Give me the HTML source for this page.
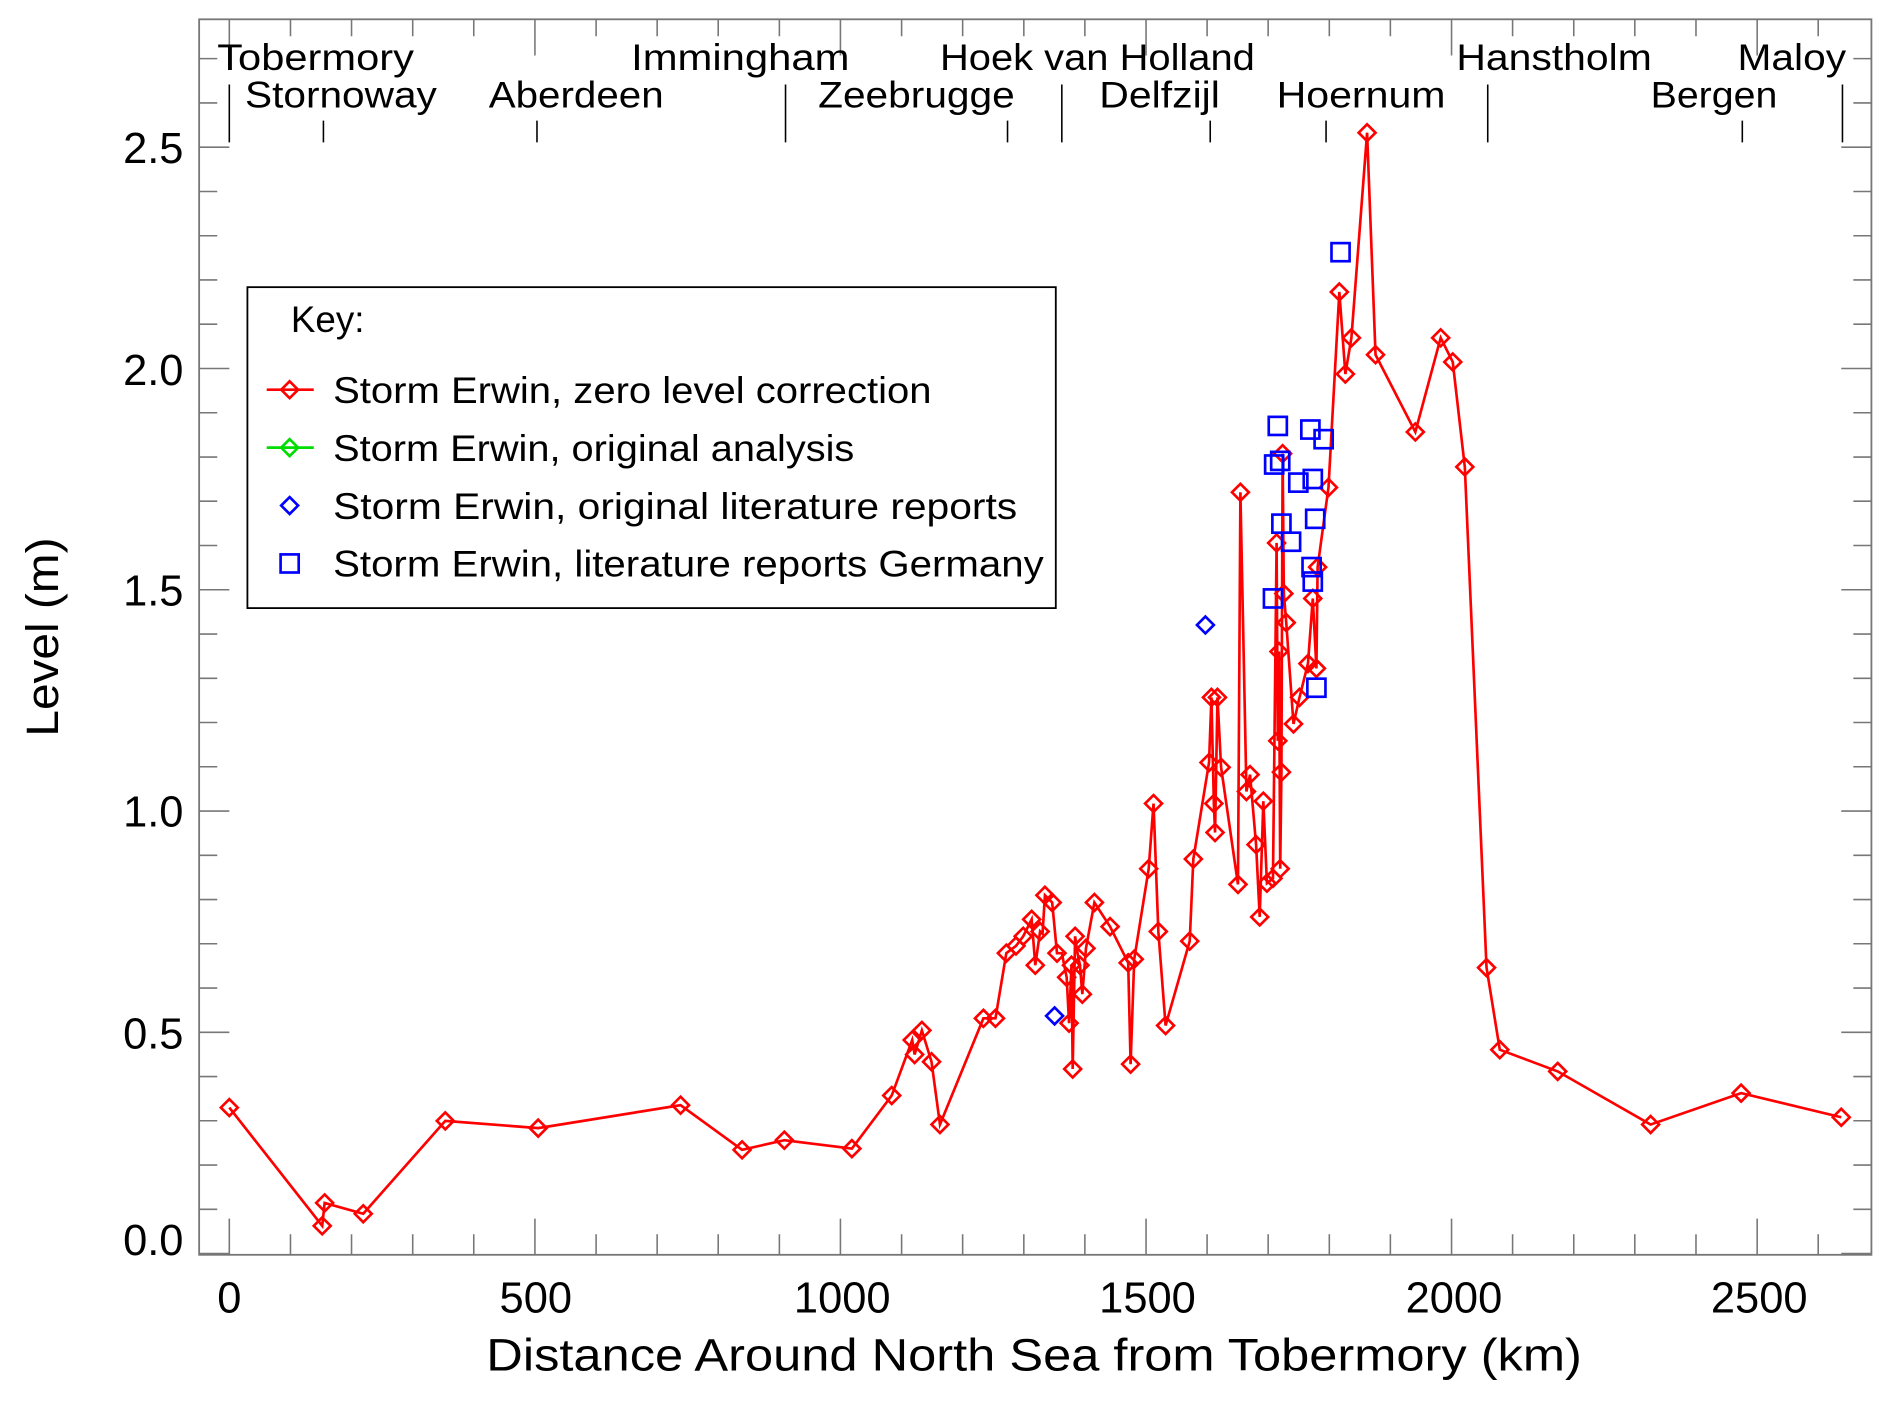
<!DOCTYPE html>
<html><head><meta charset="utf-8"><style>html,body{margin:0;padding:0;background:#fff}svg{display:block}</style></head>
<body>
<svg width="1892" height="1402" viewBox="0 0 1568 1162" xmlns="http://www.w3.org/2000/svg" font-family="'Liberation Sans', sans-serif">
<rect width="1568" height="1162" fill="#fff"/>
<!-- axes box -->
<rect x="165" y="16" width="1386" height="1024" fill="none" stroke="#777" stroke-width="1.5"/>
<g stroke="#777" stroke-width="1.3" fill="none">
<!-- bottom x ticks -->
<path d="M190 1040V1010M443.3 1040V1010M696.5 1040V1010M949.8 1040V1010M1203 1040V1010M1456.3 1040V1010
M240.7 1040V1023M291.3 1040V1023M342 1040V1023M392.6 1040V1023M494 1040V1023M544.6 1040V1023M595.2 1040V1023M645.9 1040V1023M747.2 1040V1023M797.8 1040V1023M848.5 1040V1023M899.1 1040V1023M1000.4 1040V1023M1051 1040V1023M1101.7 1040V1023M1152.3 1040V1023M1253.6 1040V1023M1304.3 1040V1023M1354.9 1040V1023M1405.6 1040V1023M1506.9 1040V1023"/>
<!-- top x ticks -->
<path d="M190 16V46M443.3 16V46M696.5 16V46M949.8 16V46M1203 16V46M1456.3 16V46
M240.7 16V30M291.3 16V30M342 16V30M392.6 16V30M494 16V30M544.6 16V30M595.2 16V30M645.9 16V30M747.2 16V30M797.8 16V30M848.5 16V30M899.1 16V30M1000.4 16V30M1051 16V30M1101.7 16V30M1152.3 16V30M1253.6 16V30M1304.3 16V30M1354.9 16V30M1405.6 16V30M1506.9 16V30"/>
<!-- left y ticks -->
<path d="M165 1039H190M165 855.6H190M165 672.2H190M165 488.8H190M165 305.4H190M165 122H190
M165 1002.3H180M165 965.6H180M165 928.9H180M165 892.3H180M165 818.9H180M165 782.2H180M165 745.6H180M165 708.9H180M165 635.5H180M165 598.8H180M165 562.2H180M165 525.5H180M165 452.1H180M165 415.4H180M165 378.8H180M165 342.1H180M165 268.7H180M165 232H180M165 195.4H180M165 158.7H180M165 85.3H180M165 48.6H180"/>
<!-- right y ticks -->
<path d="M1551 1039H1526M1551 855.6H1526M1551 672.2H1526M1551 488.8H1526M1551 305.4H1526M1551 122H1526
M1551 1002.3H1536M1551 965.6H1536M1551 928.9H1536M1551 892.3H1536M1551 818.9H1536M1551 782.2H1536M1551 745.6H1536M1551 708.9H1536M1551 635.5H1536M1551 598.8H1536M1551 562.2H1536M1551 525.5H1536M1551 452.1H1536M1551 415.4H1536M1551 378.8H1536M1551 342.1H1536M1551 268.7H1536M1551 232H1536M1551 195.4H1536M1551 158.7H1536M1551 85.3H1536M1551 48.6H1536"/>
</g>
<!-- station lines -->
<g stroke="#000" stroke-width="1.3">
<path d="M190 70V118M268 100V118M445 100V118M651 70V118M835 100V118M880 70V118M1003 100V118M1099 100V118M1233 70V118M1444 100V118M1527 70V118"/>
</g>
<g font-size="31" fill="#000">
<text x="180" y="58" textLength="163" lengthAdjust="spacingAndGlyphs">Tobermory</text>
<text x="523" y="58" textLength="181" lengthAdjust="spacingAndGlyphs">Immingham</text>
<text x="779" y="58" textLength="261" lengthAdjust="spacingAndGlyphs">Hoek van Holland</text>
<text x="1207" y="58" textLength="162" lengthAdjust="spacingAndGlyphs">Hanstholm</text>
<text x="1440" y="58" textLength="90" lengthAdjust="spacingAndGlyphs">Maloy</text>
<text x="203" y="89" textLength="159" lengthAdjust="spacingAndGlyphs">Stornoway</text>
<text x="405" y="89" textLength="145" lengthAdjust="spacingAndGlyphs">Aberdeen</text>
<text x="678" y="89" textLength="163" lengthAdjust="spacingAndGlyphs">Zeebrugge</text>
<text x="911" y="89" textLength="100" lengthAdjust="spacingAndGlyphs">Delfzijl</text>
<text x="1058" y="89" textLength="140" lengthAdjust="spacingAndGlyphs">Hoernum</text>
<text x="1368" y="89" textLength="105" lengthAdjust="spacingAndGlyphs">Bergen</text>
</g>
<!-- tick labels -->
<g font-size="36" fill="#000" text-anchor="end">
<text x="152" y="1040">0.0</text>
<text x="152" y="869">0.5</text>
<text x="152" y="685">1.0</text>
<text x="152" y="502">1.5</text>
<text x="152" y="319">2.0</text>
<text x="152" y="135">2.5</text>
</g>
<g font-size="36" fill="#000" text-anchor="middle">
<text x="190" y="1088">0</text>
<text x="444" y="1088">500</text>
<text x="698" y="1088">1000</text>
<text x="951" y="1088">1500</text>
<text x="1205" y="1088">2000</text>
<text x="1458" y="1088">2500</text>
<text x="857" y="1136" font-size="38" textLength="908" lengthAdjust="spacingAndGlyphs">Distance Around North Sea from Tobermory (km)</text>
<text transform="translate(48 528) rotate(-90)" font-size="38" textLength="165" lengthAdjust="spacingAndGlyphs">Level (m)</text>
</g>
<defs>
<path id="d" d="M0 -7L7 0L0 7L-7 0Z" fill="none"/>
<rect id="s" x="-7.5" y="-7.5" width="15" height="15" fill="none"/>
</defs>
<!-- red series -->
<g stroke="#f00" stroke-width="2.2" fill="none">
<polyline points="190,918 267,1016 269,997 301,1006 369,929 446,935 564,916 615,953 650,945 706,952 739,908 756,862 758,874 764,854 772,880 779,932 815,844 825,844 834,790 842,784 848,776 855,762 858,800 862,772 864,774 866,742 872,748 876,790 880,790 884,810 886,848 888,800 889,886 891,776 893,790 895,800 897,824 900,786 907,748 920,768 935,798 937,882 940,795 952,720 956,666 960,772 966,850 986,780 989,712 1002,632 1004,578 1006,666 1007,690 1009,578 1012,636 1026,733 1028,408 1033,656 1036,642 1041,700 1044,760 1047,664 1050,732 1055,728 1058,450 1059,614 1060,540 1061,720 1062,640 1063,376 1064,492 1066,516 1072,600 1077,578 1084,550 1088,496 1091,554 1092,470 1101,404 1110,242 1115,310 1120,280 1133,110 1140,294 1173,358 1194,280 1204,300 1214,387 1232,802 1243,870 1291,888 1368,932 1443,906 1526,926"/>
<g id="pts">
<use href="#d" x="190" y="918"/><use href="#d" x="267" y="1016"/><use href="#d" x="269" y="997"/><use href="#d" x="301" y="1006"/><use href="#d" x="369" y="929"/><use href="#d" x="446" y="935"/><use href="#d" x="564" y="916"/><use href="#d" x="615" y="953"/><use href="#d" x="650" y="945"/><use href="#d" x="706" y="952"/><use href="#d" x="739" y="908"/><use href="#d" x="756" y="862"/><use href="#d" x="758" y="874"/><use href="#d" x="764" y="854"/><use href="#d" x="772" y="880"/><use href="#d" x="779" y="932"/><use href="#d" x="815" y="844"/><use href="#d" x="825" y="844"/><use href="#d" x="834" y="790"/><use href="#d" x="842" y="784"/><use href="#d" x="848" y="776"/><use href="#d" x="855" y="762"/><use href="#d" x="858" y="800"/><use href="#d" x="862" y="772"/><use href="#d" x="866" y="742"/><use href="#d" x="872" y="748"/><use href="#d" x="876" y="790"/><use href="#d" x="884" y="810"/><use href="#d" x="886" y="848"/><use href="#d" x="888" y="800"/><use href="#d" x="889" y="886"/><use href="#d" x="891" y="776"/><use href="#d" x="895" y="800"/><use href="#d" x="897" y="824"/><use href="#d" x="900" y="786"/><use href="#d" x="907" y="748"/><use href="#d" x="920" y="768"/><use href="#d" x="935" y="798"/><use href="#d" x="937" y="882"/><use href="#d" x="940" y="795"/><use href="#d" x="952" y="720"/><use href="#d" x="956" y="666"/><use href="#d" x="960" y="772"/><use href="#d" x="966" y="850"/><use href="#d" x="986" y="780"/><use href="#d" x="989" y="712"/><use href="#d" x="1002" y="632"/><use href="#d" x="1004" y="578"/><use href="#d" x="1006" y="666"/><use href="#d" x="1007" y="690"/><use href="#d" x="1009" y="578"/><use href="#d" x="1012" y="636"/><use href="#d" x="1026" y="733"/><use href="#d" x="1028" y="408"/><use href="#d" x="1033" y="656"/><use href="#d" x="1036" y="642"/><use href="#d" x="1041" y="700"/><use href="#d" x="1044" y="760"/><use href="#d" x="1047" y="664"/><use href="#d" x="1050" y="732"/><use href="#d" x="1055" y="728"/><use href="#d" x="1058" y="450"/><use href="#d" x="1059" y="614"/><use href="#d" x="1060" y="540"/><use href="#d" x="1061" y="720"/><use href="#d" x="1062" y="640"/><use href="#d" x="1063" y="376"/><use href="#d" x="1064" y="492"/><use href="#d" x="1066" y="516"/><use href="#d" x="1072" y="600"/><use href="#d" x="1077" y="578"/><use href="#d" x="1084" y="550"/><use href="#d" x="1088" y="496"/><use href="#d" x="1091" y="554"/><use href="#d" x="1092" y="470"/><use href="#d" x="1101" y="404"/><use href="#d" x="1110" y="242"/><use href="#d" x="1115" y="310"/><use href="#d" x="1120" y="280"/><use href="#d" x="1133" y="110"/><use href="#d" x="1140" y="294"/><use href="#d" x="1173" y="358"/><use href="#d" x="1194" y="280"/><use href="#d" x="1204" y="300"/><use href="#d" x="1214" y="387"/><use href="#d" x="1232" y="802"/><use href="#d" x="1243" y="870"/><use href="#d" x="1291" y="888"/><use href="#d" x="1368" y="932"/><use href="#d" x="1443" y="906"/><use href="#d" x="1526" y="926"/>
</g>
</g>
<!-- blue -->
<g stroke="#00f" stroke-width="2.2" fill="none">
<use href="#d" x="999" y="518"/><use href="#d" x="874" y="842"/>
<use href="#s" x="1111" y="209"/><use href="#s" x="1059" y="353"/><use href="#s" x="1086" y="356"/><use href="#s" x="1097" y="364"/><use href="#s" x="1056" y="385"/><use href="#s" x="1061" y="382"/><use href="#s" x="1076" y="400"/><use href="#s" x="1088" y="397"/><use href="#s" x="1062" y="434"/><use href="#s" x="1090" y="430"/><use href="#s" x="1070" y="449"/><use href="#s" x="1087" y="470"/><use href="#s" x="1088" y="482"/><use href="#s" x="1055" y="496"/><use href="#s" x="1091" y="570"/>
</g>
<!-- legend -->
<rect x="205" y="238" width="670" height="266" fill="#fff" stroke="#000" stroke-width="1.5"/>
<g font-size="31" fill="#000">
<text x="241" y="275" textLength="61" lengthAdjust="spacingAndGlyphs">Key:</text>
<text x="276" y="334" textLength="496" lengthAdjust="spacingAndGlyphs">Storm Erwin, zero level correction</text>
<text x="276" y="382" textLength="432" lengthAdjust="spacingAndGlyphs">Storm Erwin, original analysis</text>
<text x="276" y="430" textLength="567" lengthAdjust="spacingAndGlyphs">Storm Erwin, original literature reports</text>
<text x="276" y="478" textLength="589" lengthAdjust="spacingAndGlyphs">Storm Erwin, literature reports Germany</text>
</g>
<g stroke-width="2.2" fill="none">
<path d="M221 323H260" stroke="#f00"/><use href="#d" x="240" y="323" stroke="#f00"/>
<path d="M221 371H260" stroke="#0d0"/><use href="#d" x="240" y="371" stroke="#0d0"/>
<use href="#d" x="240" y="419" stroke="#00f"/>
<use href="#s" x="240" y="467" stroke="#00f"/>
</g>
</svg>
</body></html>
